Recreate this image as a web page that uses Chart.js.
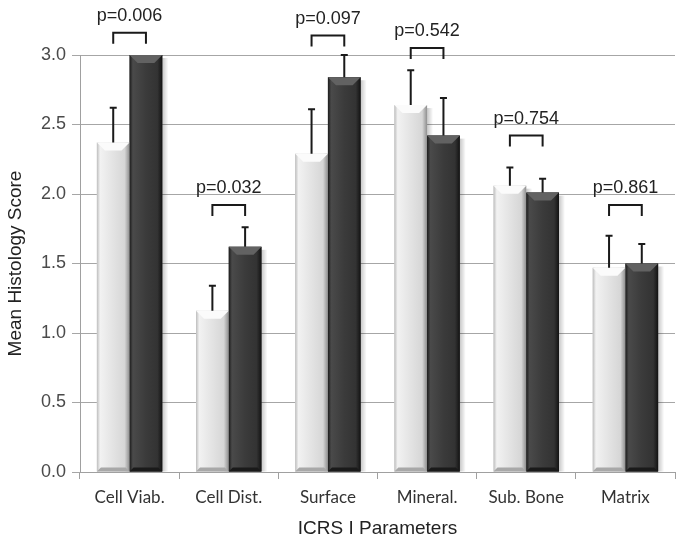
<!DOCTYPE html>
<html>
<head>
<meta charset="utf-8">
<script src="https://cdn.jsdelivr.net/npm/chart.js@4.4.0/dist/chart.umd.min.js"></script>
<style>
  html, body { margin: 0; padding: 0; background: #fff; }
  #wrap { width: 681px; height: 540px; }
</style>
</head>
<body>
<div id="wrap"><canvas id="histo" width="681" height="540"></canvas></div>
<script>
// values
const categories = ['Cell Viab.', 'Cell Dist.', 'Surface', 'Mineral.', 'Sub. Bone', 'Matrix'];
const lightMeans = [2.37, 1.16, 2.29, 2.64, 2.06, 1.47];
const lightErrors = [0.25, 0.18, 0.32, 0.25, 0.13, 0.23];
const darkMeans = [3.0, 1.62, 2.84, 2.42, 2.01, 1.50];
const darkErrors = [0.0, 0.14, 0.16, 0.27, 0.10, 0.14];
const pValues = ['p=0.006', 'p=0.032', 'p=0.097', 'p=0.542', 'p=0.754', 'p=0.861'];
const bracketLevels = [3.16, 1.92, 3.14, 3.05, 2.42, 1.92];
const yTicks = [0, 0.5, 1.0, 1.5, 2.0, 2.5, 3.0];

const errs = [lightErrors, darkErrors];

// bevelled look on top of plain bars
const bevelPlugin = {
    id: 'bevel',
    afterDatasetsDraw(chart) {
        const ctx = chart.ctx;
        chart.data.datasets.forEach((ds, di) => {
            const meta = chart.getDatasetMeta(di);
            meta.data.forEach(bar => {
                const left = bar.x - bar.width / 2;
                const right = bar.x + bar.width / 2;
                const top = bar.y;
                const bottom = bar.base;
                const w = bar.width;

                // soft shadow on the right side
                ctx.save();
                const sh = ctx.createLinearGradient(right, 0, right + 6, 0);
                sh.addColorStop(0, 'rgba(0,0,0,0.22)');
                sh.addColorStop(1, 'rgba(0,0,0,0)');
                ctx.fillStyle = sh;
                ctx.fillRect(right, top + 3, 6, bottom - top - 3);

                const g = ctx.createLinearGradient(left, 0, right, 0);
                if (di === 0) {
                    g.addColorStop(0, '#bdbdbd');
                    g.addColorStop(0.1, '#f2f2f2');
                    g.addColorStop(0.5, '#e3e3e3');
                    g.addColorStop(0.85, '#d6d6d6');
                    g.addColorStop(0.93, '#b0b0b0');
                    g.addColorStop(1, '#8f8f8f');
                } else {
                    g.addColorStop(0, '#1c1c1c');
                    g.addColorStop(0.1, '#4a4a4a');
                    g.addColorStop(0.5, '#3b3b3b');
                    g.addColorStop(0.85, '#333333');
                    g.addColorStop(0.93, '#222222');
                    g.addColorStop(1, '#121212');
                }
                ctx.fillStyle = g;
                ctx.fillRect(left, top, w, bottom - top);

                // top chevron
                const bev = 8;
                ctx.beginPath();
                ctx.moveTo(left, top);
                ctx.lineTo(right, top);
                ctx.lineTo(right - bev, top + bev);
                ctx.lineTo(left + bev, top + bev);
                ctx.closePath();
                ctx.fillStyle = di === 0 ? '#fbfbfb' : '#626262';
                ctx.fill();

                // bottom bevel
                ctx.beginPath();
                ctx.moveTo(left, bottom);
                ctx.lineTo(right, bottom);
                ctx.lineTo(right - 4, bottom - 4);
                ctx.lineTo(left + 4, bottom - 4);
                ctx.closePath();
                ctx.fillStyle = di === 0 ? '#a8a8a8' : '#1a1a1a';
                ctx.fill();
                ctx.restore();
            });
        });
    }
};

// error bars (upper only) and p-value brackets
const annotPlugin = {
    id: 'annot',
    afterDraw(chart) {
        const ctx = chart.ctx;
        const y = chart.scales.y;
        ctx.save();
        ctx.strokeStyle = '#1a1a1a';
        ctx.lineWidth = 2;
        chart.data.datasets.forEach((ds, di) => {
            const meta = chart.getDatasetMeta(di);
            meta.data.forEach((bar, i) => {
                const e = errs[di][i];
                if (!e) return;
                const yt = y.getPixelForValue(ds.data[i] + e);
                ctx.beginPath();
                ctx.moveTo(bar.x, bar.y);
                ctx.lineTo(bar.x, yt);
                ctx.moveTo(bar.x - 3.5, yt);
                ctx.lineTo(bar.x + 3.5, yt);
                ctx.stroke();
            });
        });

        const m0 = chart.getDatasetMeta(0).data;
        const m1 = chart.getDatasetMeta(1).data;
        ctx.fillStyle = '#222';
        ctx.font = '18px "Liberation Sans", Arial, sans-serif';
        ctx.textAlign = 'center';
        ctx.textBaseline = 'middle';
        pValues.forEach((p, i) => {
            const x0 = m0[i].x, x1 = m1[i].x;
            const yb = y.getPixelForValue(bracketLevels[i]);
            ctx.beginPath();
            ctx.moveTo(x0, yb + 11);
            ctx.lineTo(x0, yb);
            ctx.lineTo(x1, yb);
            ctx.lineTo(x1, yb + 11);
            ctx.stroke();
            ctx.fillText(p, (x0 + x1) / 2, yb - 17);
        });
        ctx.restore();
    }
};

new Chart(document.getElementById('histo'), {
    type: 'bar',
    data: {
        labels: categories,
        datasets: [
            { label: 'Group A', data: lightMeans, backgroundColor: '#e3e3e3', borderWidth: 0 },
            { label: 'Group B', data: darkMeans, backgroundColor: '#3b3b3b', borderWidth: 0 }
        ]
    },
    options: {
        responsive: false,
        animation: false,
        devicePixelRatio: 1,
        layout: { padding: { top: 55, right: 6, left: 4, bottom: 0 } },
        datasets: { bar: { categoryPercentage: 0.66, barPercentage: 1.0 } },
        plugins: { legend: { display: false }, tooltip: { enabled: false } },
        scales: {
            x: {
                grid: { drawOnChartArea: false, drawTicks: true, tickLength: 7, color: '#a0a0a0', offset: true },
                border: { color: '#a0a0a0' },
                ticks: { color: '#333', padding: 8, font: { family: 'Lato, "Open Sans", sans-serif', size: 17 } },
                title: { display: true, text: 'ICRS I Parameters', color: '#222', padding: { top: 4, bottom: 0 },
                    font: { family: '"Liberation Sans", Arial, sans-serif', size: 19 } },
                afterFit(scale) { scale.height = 68; }
            },
            y: {
                min: 0,
                max: 3,
                afterBuildTicks(scale) { scale.ticks = yTicks.map(v => ({ value: v })); },
                grid: { color: '#a6a6a6', tickLength: 8 },
                border: { color: '#a0a0a0' },
                ticks: { color: '#4a4a4a', padding: 6, callback: v => Number(v).toFixed(1),
                    font: { family: '"Liberation Sans", Arial, sans-serif', size: 18 } },
                title: { display: true, text: 'Mean Histology Score', color: '#222', padding: 0,
                    font: { family: '"Liberation Sans", Arial, sans-serif', size: 19 } },
                afterFit(scale) { scale.width = 76; }
            }
        }
    },
    plugins: [bevelPlugin, annotPlugin]
});
</script>
</body>
</html>
